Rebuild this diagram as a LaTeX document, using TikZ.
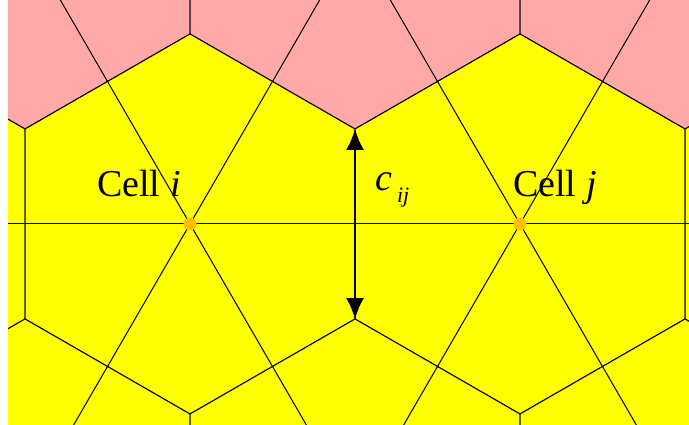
\documentclass[tikz,border=0pt]{standalone}
\usepackage{fontspec}
\setmainfont{Liberation Serif}
\usetikzlibrary{arrows.meta}
\definecolor{cellpink}{RGB}{255,168,168}
\definecolor{cellyellow}{RGB}{255,255,0}
\definecolor{dotorange}{RGB}{255,190,0}

\begin{document}
\begin{tikzpicture}[
  x=1pt, y=-1pt,
  hexedge/.style={draw=black, line width=1pt},
  link/.style={draw=black, line width=1pt},
  cdot/.style={circle, fill=dotorange, inner sep=0pt, minimum size=13pt},
  lbl/.style={inner sep=0pt, anchor=base west, font=\fontsize{38}{40}\selectfont},
  arr/.style={{Latex[length=21pt,width=18pt]}-{Latex[length=21pt,width=18pt]}, line width=2pt}
]
\useasboundingbox (0,0) rectangle (689,425);
% cell centres
\coordinate (p1) at (25,-61);
\coordinate (p2) at (355,-61);
\coordinate (p3) at (685,-61);
\coordinate (w) at (-140,224);
\coordinate (ci) at (190,224);
\coordinate (cj) at (520,224);
\coordinate (e) at (850,224);
\coordinate (b1) at (25,509);
\coordinate (b2) at (355,509);
\coordinate (b3) at (685,509);
\begin{scope}
  \clip (8,0) rectangle (689,425);
  \fill[cellyellow] (8,0) rectangle (689,425);
  \foreach \cx/\cy/\col in {25/-61/cellpink, 355/-61/cellpink, 685/-61/cellpink,
      -140/224/cellyellow, 190/224/cellyellow, 520/224/cellyellow, 850/224/cellyellow,
      25/509/cellyellow, 355/509/cellyellow, 685/509/cellyellow}
    \filldraw[hexedge, fill=\col] (\cx,\cy-190) -- ++(165,95) -- ++(0,190)
      -- ++(-165,95) -- ++(-165,-95) -- ++(0,-190) -- cycle;
  % links between neighbouring centres
  \draw[link] (w) -- (e);
  \draw[link] (ci) -- (p1);
  \draw[link] (ci) -- (p2);
  \draw[link] (ci) -- (b1);
  \draw[link] (ci) -- (b2);
  \draw[link] (cj) -- (p2);
  \draw[link] (cj) -- (p3);
  \draw[link] (cj) -- (b2);
  \draw[link] (cj) -- (b3);
  \draw[link] (w) -- (p1);
  \draw[link] (w) -- (b1);
  \draw[link] (e) -- (p3);
  \draw[link] (e) -- (b3);
\end{scope}
\node[cdot] (doti) at (ci) {};
\node[cdot] (dotj) at (cj) {};
\coordinate (vtop) at (355,129);
\coordinate (vbot) at (355,319);
\draw[arr] (vtop) -- (vbot);
\node[lbl] (celli) at (97,197) {Cell \textit{i}};
\node[lbl] (cellj) at (513,197) {Cell \textit{j}};
\node[lbl] (cij) at (375,191) {\textit{c}\hspace{5pt}\raisebox{-12pt}{\fontsize{22}{22}\selectfont\textit{ij}}};
\end{tikzpicture}
\end{document}
